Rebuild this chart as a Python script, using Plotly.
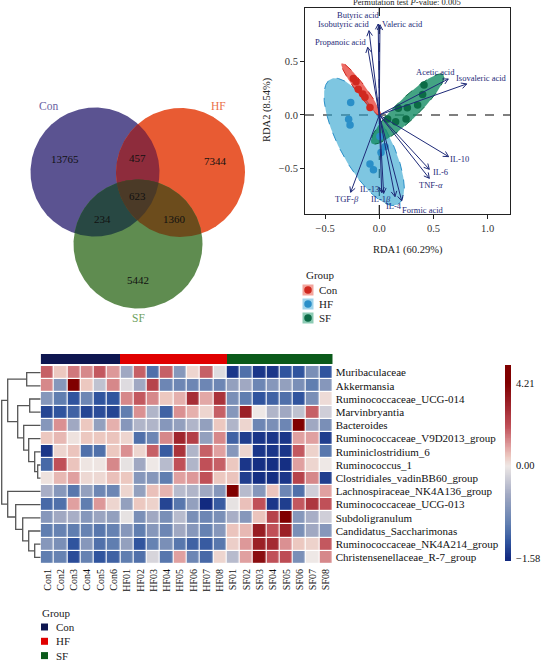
import numpy as np
import plotly.graph_objects as go

W, H = 541, 661
SERIF = "Liberation Serif"

# ---------------- Venn data ----------------
VENN_REGIONS = ["Con", "HF", "SF", "Con&HF", "Con&SF", "HF&SF", "Con&HF&SF"]
VENN_COUNTS = [13765, 7344, 5442, 457, 234, 1360, 623]

# ---------------- RDA data ----------------
GROUPS = ["Con", "HF", "SF"]
CON_RDA1 = [-0.24, -0.215, -0.194, -0.153, -0.132, -0.086]
CON_RDA2 = [0.34, 0.31, 0.24, 0.195, 0.165, 0.07]
HF_RDA1 = [-0.264, -0.283, -0.27, -0.086, -0.054, 0.006, 0.053, 0.016]
HF_RDA2 = [0.115, -0.04, -0.093, -0.456, -0.51, -0.2, -0.295, -0.35]
SF_RDA1 = [0.413, 0.4, 0.354, 0.259, 0.176, 0.247, 0.151, 0.077]
SF_RDA2 = [0.28, 0.19, 0.093, 0.068, 0.062, -0.037, -0.062, -0.037]
# confidence ellipses: centre x, centre y, semi-major, semi-minor, angle (deg)
ELLIPSE_CON = [-0.17, 0.24, 0.30, 0.045, -53.8]
ELLIPSE_HF = [-0.14, -0.25, 0.66, 0.23, -62.0]
ELLIPSE_SF = [0.26, 0.055, 0.46, 0.10, 44.0]

ENV_NAMES = ["Butyric acid", "Isobutyric acid", "Valeric acid", "Propanoic acid",
             "Acetic acid", "Isovaleric acid", "IL-10", "IL-6", "TNF-<i>α</i>",
             "TGF-<i>β</i>", "IL-13", "IL-1<i>β</i>", "IL-4", "Formic acid"]
ENV_RDA1 = [-0.01, -0.095, 0.006, -0.107, 0.637, 0.807, 0.64, 0.462, 0.462,
            -0.264, 0.022, 0.04, 0.145, 0.207]
ENV_RDA2 = [0.847, 0.785, 0.84, 0.63, 0.335, 0.289, -0.388, -0.506, -0.59,
            -0.72, -0.723, -0.73, -0.76, -0.8]
ENV_LABEL_X = [-0.193, -0.33, 0.21, -0.354, 0.519, 0.946, 0.745, 0.565, 0.473,
               -0.298, -0.095, 0.016, 0.136, 0.403]
ENV_LABEL_Y = [0.931, 0.845, 0.845, 0.677, 0.403, 0.347, -0.412, -0.528, -0.652,
               -0.782, -0.689, -0.782, -0.847, -0.885]

# ---------------- Heatmap data ----------------
TAXA = ["Muribaculaceae", "Akkermansia", "Ruminococcaceae_UCG-014", "Marvinbryantia",
        "Bacteroides", "Ruminococcaceae_V9D2013_group", "Ruminiclostridium_6",
        "Ruminococcus_1", "Clostridiales_vadinBB60_group", "Lachnospiraceae_NK4A136_group",
        "Ruminococcaceae_UCG-013", "Subdoligranulum", "Candidatus_Saccharimonas",
        "Ruminococcaceae_NK4A214_group", "Christensenellaceae_R-7_group"]
SAMPLES = ["Con1", "Con2", "Con3", "Con4", "Con5", "Con6",
           "HF01", "HF02", "HF03", "HF04", "HF05", "HF06", "HF07", "HF08",
           "SF01", "SF02", "SF03", "SF04", "SF05", "SF06", "SF07", "SF08"]
SAMPLE_GROUP = ["Con"] * 6 + ["HF"] * 8 + ["SF"] * 8
HEAT_VALUES = [
    [1.8, 0.5, 1.5, 1.3, 1.9, 1.1, -0.5, 1.8, -1.1, 1.8, -0.7, 0.3, 1.8, -0.1, -1.5, -1.1, -1.5, -1.5, -1.3, -1.3, -0.8, -1.3],
    [1.3, -0.7, 4.21, 0.5, -0.3, 1.3, -0.1, -0.5, 2.3, -0.9, -0.9, -0.9, -0.9, -0.9, -0.6, -0.5, -0.9, -0.7, -0.6, -0.8, -1.0, -0.7],
    [-0.7, -1.0, -1.3, -0.9, -1.3, -1.3, 1.3, 1.9, 1.3, 0.5, 0.8, 2.8, 0.9, 2.7, -0.8, -1.0, -1.3, -1.2, -1.1, -1.3, -0.8, 0.2],
    [-1.4, -1.3, -1.2, -1.4, -1.35, -1.4, -1.0, 1.2, -0.4, -1.2, 1.2, 0.8, 0.3, 1.8, -0.7, 3.2, 0.0, -0.4, -0.5, -0.3, 1.8, -0.2],
    [-0.7, 1.2, -0.5, 0.5, -0.6, 0.8, -0.7, -0.4, -0.4, -0.7, -0.6, -0.4, -0.6, 0.5, -0.4, 0.3, -0.9, -0.8, -0.9, 4.2, -0.5, -0.8],
    [0.5, 0.7, 0.1, 0.5, 0.5, 0.55, 0.3, -1.1, -0.9, 1.3, 3.0, 2.4, -0.6, 1.3, -1.2, -1.45, -1.5, -1.5, -1.5, 1.0, 1.0, -1.45],
    [-1.5, 0.3, 0.55, -1.1, -1.1, 0.5, 1.2, 0.3, 1.8, -1.25, 2.7, -0.4, 1.8, 1.0, -0.7, 0.3, -1.5, -1.5, -1.5, 1.9, 0.35, -1.05],
    [-1.15, 2.0, 0.55, 0.05, 0.05, 1.3, -0.05, -0.5, 0.0, -0.35, 2.0, -0.4, 2.0, 1.8, 0.5, -1.5, -1.55, -1.55, -1.55, 1.0, 0.3, 0.0],
    [0.1, 0.7, 1.0, 0.25, 0.25, 0.6, 0.5, -0.7, -0.7, -1.0, 1.0, 1.1, 2.0, 0.5, 0.55, -1.45, -1.55, -1.55, -1.5, 2.3, 1.3, -1.45],
    [-0.45, -0.7, -1.05, -0.6, -0.9, -0.9, 0.3, -0.6, 0.6, 0.75, -0.35, -0.4, -0.5, -0.7, 4.21, -0.35, -0.7, 0.55, -0.9, -1.1, -0.2, 1.0],
    [-1.15, -1.1, 1.0, -1.0, 1.1, 0.3, -0.6, 0.5, 0.35, -1.4, -1.05, -0.6, -1.58, -1.25, -0.05, 0.6, 2.0, -1.5, -1.45, 1.9, 2.6, 2.0],
    [-0.7, -0.5, -0.45, -0.7, -0.55, -0.6, -0.05, -0.8, -0.5, -0.8, -0.35, -0.8, -0.9, -0.8, -0.45, -0.7, 0.55, 2.3, 4.2, -0.7, -0.45, -0.2],
    [-1.0, -0.95, -1.0, -0.95, -1.05, -0.95, -0.7, -1.0, -0.7, -0.9, -0.5, -0.7, -0.95, -0.7, 0.55, 0.7, 3.3, 2.0, 3.2, -0.8, -0.5, -0.7],
    [-0.7, -0.8, -1.3, -0.7, -1.1, -1.0, -0.6, -1.3, -0.95, -0.8, -1.05, -1.2, -1.25, -1.05, 0.4, 1.1, 3.2, 2.9, 1.2, 0.5, 0.35, 1.9],
    [-1.0, -0.95, -1.35, -0.95, -1.3, -1.2, -1.0, -1.1, -0.15, -1.05, 1.0, -0.9, -1.15, 0.3, -0.35, 1.0, 3.8, 2.0, 2.1, -0.8, 0.0, 1.3],
]
HEAT_MIN, HEAT_MAX = -1.58, 4.21
CB_TICKS = [4.21, 0.00, -1.58]
# row dendrogram: (left id, right id, merge height); leaves are 0..14, merges 15..
DENDRO_MERGES = [
    (7, 8, 3), (6, 15, 6), (5, 16, 12), (4, 17, 17), (2, 3, 11), (19, 18, 23),
    (0, 1, 14), (21, 20, 33), (13, 14, 6), (12, 23, 12), (11, 24, 18),
    (10, 25, 25), (9, 26, 33), (22, 27, 39),
]

# ================= styling =================
GROUP_PT = {"Con": "#d0281f", "HF": "#2a8fc8", "SF": "#0c6b46"}
GROUP_FILL = {"Con": "rgba(230,45,35,0.70)", "HF": "rgba(40,160,205,0.60)", "SF": "rgba(20,140,100,0.80)"}
GROUP_KEY = {"Con": "#f3a59c", "HF": "#9fd3ea", "SF": "#8ccbb4"}
ANNOT_COL = {"Con": "#0e1650", "HF": "#e00000", "SF": "#0b5a1a"}
NAVY = "#1e2a78"


def px(x):
    return x / W


def py(y):
    return 1 - y / H


fig = go.Figure()
ann = []
shapes = []


def text(x, y, s, size, color="#222", xanchor="center", ref=("paper", "paper"), **kw):
    if ref == ("paper", "paper"):
        x, y = px(x), py(y)
    ann.append(dict(x=x, y=y, xref=ref[0], yref=ref[1], text=s, showarrow=False,
                    xanchor=xanchor, yanchor="middle",
                    font=dict(family=SERIF, size=size, color=color), **kw))


# ================= Venn (canvas axes in pixel units) =================
VENN_GEOM = {"Con": (95, 172), "HF": (180.5, 172.5), "SF": (138, 244)}
VR = 64.5
REGION_COLORS = {"Con": "#5b5391", "HF": "#e85b33", "SF": "#5f8c50",
                 "Con&HF": "#8e2c3c", "Con&SF": "#284843", "HF&SF": "#6c4c1c",
                 "Con&HF&SF": "#4b3a27"}
th = np.linspace(0, 2 * np.pi, 1441)


def circ(name):
    cx, cy = VENN_GEOM[name]
    return np.c_[cx + VR * np.cos(th), cy + VR * np.sin(th)]


def inter(names):
    pts = []
    for n in names:
        p = circ(n)
        ok = np.ones(len(p), bool)
        for m in names:
            if m == n:
                continue
            cx, cy = VENN_GEOM[m]
            ok &= (p[:, 0] - cx) ** 2 + (p[:, 1] - cy) ** 2 <= VR ** 2 + 1e-6
        pts.append(p[ok])
    pts = np.vstack(pts)
    c = pts.mean(axis=0)
    ang = np.arctan2(pts[:, 1] - c[1], pts[:, 0] - c[0])
    pts = pts[np.argsort(ang)]
    return np.vstack([pts, pts[:1]])


for reg in ["Con", "HF", "SF", "Con&HF", "Con&SF", "HF&SF", "Con&HF&SF"]:
    names = reg.split("&")
    poly = circ(names[0]) if len(names) == 1 else inter(names)
    fig.add_trace(go.Scatter(x=poly[:, 0], y=poly[:, 1], mode="lines", fill="toself",
                             fillcolor=REGION_COLORS[reg], line=dict(width=0),
                             hoverinfo="skip", showlegend=False, xaxis="x", yaxis="y"))

COUNT_POS = {"Con": (65, 159), "HF": (215, 161), "SF": (138, 280), "Con&HF": (137, 158),
             "Con&SF": (102, 219), "HF&SF": (174, 219), "Con&HF&SF": (137, 196)}
for reg, cnt in zip(VENN_REGIONS, VENN_COUNTS):
    x, y = COUNT_POS[reg]
    text(x, y, str(cnt), 11, "#111")
SET_LABEL = {"Con": ((48, 106), "#6a62a2"), "HF": ((218, 106), "#ea7048"), "SF": ((138, 318), "#6f9f5f")}
for s, ((x, y), col) in SET_LABEL.items():
    text(x, y, s, 11.5, col)

# ================= RDA biplot =================
SX, SY = 108.3, 107.4  # px per unit (for arrowheads)


def ellipse(p, n=200):
    cx, cy, a, b, ang = p
    t = np.linspace(0, 2 * np.pi, n)
    r = np.deg2rad(ang)
    x = cx + a * np.cos(t) * np.cos(r) - b * np.sin(t) * np.sin(r)
    y = cy + a * np.cos(t) * np.sin(r) + b * np.sin(t) * np.cos(r)
    return x, y


for g, p in [("HF", ELLIPSE_HF), ("SF", ELLIPSE_SF), ("Con", ELLIPSE_CON)]:
    ex, ey = ellipse(p)
    fig.add_trace(go.Scatter(x=ex, y=ey, mode="lines", fill="toself", fillcolor=GROUP_FILL[g],
                             line=dict(color=GROUP_PT[g], width=1, dash="dash"),
                             hoverinfo="skip", showlegend=False, xaxis="x2", yaxis="y2"))

for g, xs, ys in [("HF", HF_RDA1, HF_RDA2), ("SF", SF_RDA1, SF_RDA2), ("Con", CON_RDA1, CON_RDA2)]:
    fig.add_trace(go.Scatter(x=xs, y=ys, mode="markers",
                             marker=dict(size=7.5, color=GROUP_PT[g], line=dict(width=0)),
                             showlegend=False, xaxis="x2", yaxis="y2"))

# arrows
ax_, ay_ = [], []
for ex_, ey_ in zip(ENV_RDA1, ENV_RDA2):
    ax_ += [0, ex_, None]
    ay_ += [0, ey_, None]
    d = np.array([ex_ * SX, ey_ * SY])
    d = d / np.linalg.norm(d)
    for s in (1, -1):
        a = np.deg2rad(28) * s
        rx = d[0] * np.cos(a) - d[1] * np.sin(a)
        ry = d[0] * np.sin(a) + d[1] * np.cos(a)
        ax_ += [ex_, ex_ - 6 * rx / SX, None]
        ay_ += [ey_, ey_ - 6 * ry / SY, None]
fig.add_trace(go.Scatter(x=ax_, y=ay_, mode="lines", line=dict(color=NAVY, width=1),
                         hoverinfo="skip", showlegend=False, xaxis="x2", yaxis="y2"))
for name, lx, ly in zip(ENV_NAMES, ENV_LABEL_X, ENV_LABEL_Y):
    text(lx, ly, name, 8.5, NAVY, ref=("x2", "y2"))

shapes.append(dict(type="line", xref="x2", yref="y2", x0=-0.686, x1=1.207, y0=0, y1=0,
                   line=dict(color="black", width=1.1, dash="dash"), layer="below"))
shapes.append(dict(type="line", xref="x2", yref="y2", x0=0, x1=0, y0=-0.922, y1=0.996,
                   line=dict(color="black", width=1.1, dash="dash"), layer="below"))

text(407, 2, "Permutation test <i>P</i>-value: 0.005", 8.5)
text(408, 250, "RDA1 (60.29%)", 10.5)
text(267, 110, "RDA2 (8.54%)", 10.5, textangle=-90)

# RDA legend
text(304, 275, "Group", 11, xanchor="left")
for i, g in enumerate(GROUPS):
    yy = 290 + 14 * i
    fig.add_trace(go.Scatter(x=[308], y=[yy], mode="markers",
                             marker=dict(symbol="square", size=11, color=GROUP_KEY[g]),
                             hoverinfo="skip", showlegend=False, xaxis="x", yaxis="y"))
    fig.add_trace(go.Scatter(x=[308], y=[yy], mode="markers",
                             marker=dict(symbol="circle", size=7.5, color=GROUP_PT[g]),
                             hoverinfo="skip", showlegend=False, xaxis="x", yaxis="y"))
    text(317, yy, g, 11, xanchor="left")

# ================= Heatmap =================
STOPS = [(-1.58, "rgb(18,42,128)"), (-1.3, "rgb(48,84,158)"), (-1.0, "rgb(96,126,176)"),
         (-0.5, "rgb(160,168,194)"), (0.0, "rgb(238,232,230)"), (0.5, "rgb(236,200,192)"),
         (1.0, "rgb(224,160,160)"), (2.0, "rgb(192,80,88)"), (3.0, "rgb(160,38,46)"),
         (4.21, "rgb(128,0,0)")]
CSCALE = [[(v - HEAT_MIN) / (HEAT_MAX - HEAT_MIN), c] for v, c in STOPS]

fig.add_trace(go.Heatmap(z=HEAT_VALUES, x=SAMPLES, y=TAXA, colorscale=CSCALE,
                         zmin=HEAT_MIN, zmax=HEAT_MAX, xgap=1.2, ygap=1.2, showscale=False,
                         xaxis="x3", yaxis="y3"))

# group annotation bar
gidx = [GROUPS.index(g) for g in SAMPLE_GROUP]
fig.add_trace(go.Heatmap(z=[gidx], x=SAMPLES, y=["Group"], zmin=0, zmax=2,
                         colorscale=[[0, ANNOT_COL["Con"]], [0.25, ANNOT_COL["Con"]],
                                     [0.25, ANNOT_COL["HF"]], [0.75, ANNOT_COL["HF"]],
                                     [0.75, ANNOT_COL["SF"]], [1, ANNOT_COL["SF"]]],
                         showscale=False, xaxis="x4", yaxis="y4"))

# colour key (custom, pheatmap style: 0 in the middle)
CB_TOP, CB_BOT = 365, 561
CB_FRAC = [0.908, 0.485, 0.015]  # positions of CB_TICKS along the key
frac = np.linspace(0, 1, 240)
cb_vals = np.interp(frac, [0, CB_FRAC[2], CB_FRAC[1], CB_FRAC[0], 1],
                    [HEAT_MIN, CB_TICKS[2], CB_TICKS[1], CB_TICKS[0], HEAT_MAX])
fig.add_trace(go.Heatmap(z=cb_vals[:, None], x=[0], y=frac, colorscale=CSCALE,
                         zmin=HEAT_MIN, zmax=HEAT_MAX, showscale=False,
                         xaxis="x5", yaxis="y5"))
for v, f in zip(CB_TICKS, CB_FRAC):
    yy = CB_BOT - f * (CB_BOT - CB_TOP)
    text(514, yy, f"{v:.2f}".replace("-", "\u2212"), 10.5, "#111", xanchor="left")

# dendrogram
n_leaf = len(TAXA)
pos = {i: (0.0, float(i)) for i in range(n_leaf)}
dx, dy = [], []
for k, (a, b, h) in enumerate(DENDRO_MERGES):
    ha, ya = pos[a]
    hb, yb = pos[b]
    dx += [ha, h, h, hb, None]
    dy += [ya, ya, yb, yb, None]
    pos[n_leaf + k] = (float(h), (ya + yb) / 2)
fig.add_trace(go.Scatter(x=dx, y=dy, mode="lines", line=dict(color="#555", width=1.3),
                         hoverinfo="skip", showlegend=False, xaxis="x6", yaxis="y6"))

# heatmap legend
text(40, 613, "Group", 11, xanchor="left")
for i, g in enumerate(GROUPS):
    yy = 627 + 14.3 * i
    fig.add_trace(go.Scatter(x=[44.5], y=[yy], mode="markers",
                             marker=dict(symbol="square", size=7, color=ANNOT_COL[g]),
                             hoverinfo="skip", showlegend=False, xaxis="x", yaxis="y"))
    text(54, yy, g, 11, xanchor="left")

# ================= layout =================
hide = dict(visible=False, fixedrange=True)
hm_x = [px(40.7), px(332.7)]
hm_y = [py(564), py(366)]
fig.update_layout(
    width=W, height=H, margin=dict(l=0, r=0, t=0, b=0),
    paper_bgcolor="white", plot_bgcolor="rgba(0,0,0,0)", showlegend=False,
    font=dict(family=SERIF, color="#222"),
    xaxis=dict(domain=[0, 1], range=[0, W], **hide),
    yaxis=dict(domain=[0, 1], range=[H, 0], **hide),
    xaxis2=dict(domain=[px(305), px(510)], range=[-0.686, 1.207], anchor="y2",
                showline=True, mirror=True, linecolor="#222", linewidth=1, showgrid=False,
                zeroline=False, ticks="outside", ticklen=4, tickcolor="#222",
                tickvals=[-0.5, 0, 0.5, 1.0], ticktext=["\u22120.5", "0.0", "0.5", "1.0"],
                tickfont=dict(family=SERIF, size=10.5, color="#333")),
    yaxis2=dict(domain=[py(214), py(8)], range=[-0.922, 0.996], anchor="x2",
                showline=True, mirror=True, linecolor="#222", linewidth=1, showgrid=False,
                zeroline=False, ticks="outside", ticklen=4, tickcolor="#222",
                tickvals=[-0.5, 0, 0.5], ticktext=["\u22120.5", "0.0", "0.5"],
                tickfont=dict(family=SERIF, size=10.5, color="#333")),
    xaxis3=dict(domain=hm_x, anchor="y3", showgrid=False, zeroline=False, ticks="",
                tickangle=-90, ticklabelstandoff=2,
                tickfont=dict(family=SERIF, size=10, color="#111")),
    yaxis3=dict(domain=hm_y, anchor="x3", side="right", showgrid=False, zeroline=False,
                ticks="", range=[14.5, -0.5], ticklabelstandoff=2,
                tickfont=dict(family=SERIF, size=11, color="#111")),
    xaxis4=dict(domain=hm_x, anchor="y4", **hide),
    yaxis4=dict(domain=[py(364), py(354)], anchor="x4", **hide),
    xaxis5=dict(domain=[px(505), px(511)], anchor="y5", **hide),
    yaxis5=dict(domain=[py(CB_BOT), py(CB_TOP)], anchor="x5", range=[0, 1], **hide),
    xaxis6=dict(domain=[0, px(40.7)], anchor="y6", range=[40.7, 0], **hide),
    yaxis6=dict(domain=hm_y, anchor="x6", range=[14.5, -0.5], **hide),
    annotations=ann, shapes=shapes,
)
fig.write_html("out.html", config={"displayModeBar": False},
               post_script="document.body.style.margin='0';document.body.style.overflow='hidden';")
